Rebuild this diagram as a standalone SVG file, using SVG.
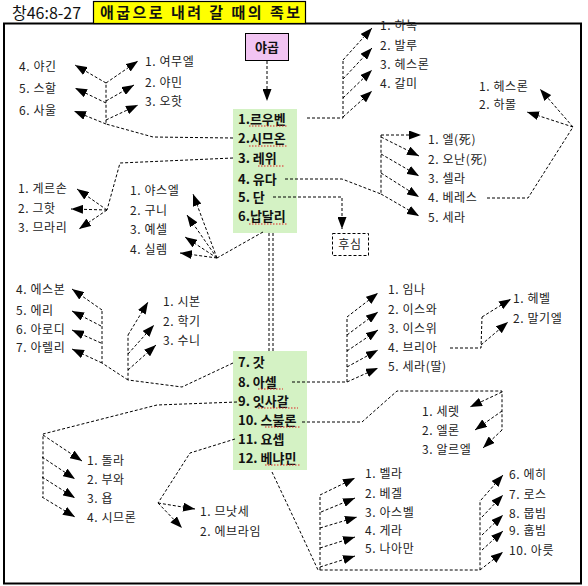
<svg xmlns="http://www.w3.org/2000/svg" width="588" height="586" viewBox="0 0 588 586">
<defs>
<marker id="ah" viewBox="0 0 12 9" refX="12" refY="4.5" markerWidth="12" markerHeight="9" markerUnits="userSpaceOnUse" orient="auto"><path d="M0,0L12,4.5L0,9z" fill="#000"/></marker>
<style>
.lb{font-family:"Noto Sans CJK KR","Noto Sans",sans-serif;font-size:12px;fill:#222;letter-spacing:0.6px}
.gb{font-family:"Noto Sans CJK KR","Noto Sans",sans-serif;font-size:13px;font-weight:bold;fill:#111}
.c{fill:none;stroke:#000;stroke-width:1;stroke-dasharray:3 2}
.a{marker-end:url(#ah)}
.sq{fill:none;stroke:#d22;stroke-width:1;stroke-dasharray:1.5 1.5}
.box{fill:#d4f2c4}
</style>
</defs>
<rect width="588" height="586" fill="#fff"/>
<g id="frame">
<rect x="4" y="23.5" width="577" height="560" fill="none" stroke="#000" stroke-width="2"/>
</g>
<g id="title">
<text x="12" y="19" font-family="Noto Sans CJK KR, sans-serif" font-size="16" fill="#111">창46:8-27</text>
<rect x="93.5" y="1.5" width="212" height="22" fill="#ffff00" stroke="#000" stroke-width="1.2"/>
<text x="100" y="18" font-family="Noto Sans CJK KR, sans-serif" font-size="15" font-weight="bold" fill="#111" textLength="200" lengthAdjust="spacing">애굽으로 내려 갈 때의 족보</text>
</g>
<g id="jacob">
<rect x="245.5" y="33.5" width="43" height="27" fill="#f2c4f2" stroke="#000"/>
<text x="267" y="52" text-anchor="middle" class="gb" font-size="14">야곱</text>
</g>
<g id="sons1">
<rect x="233" y="109" width="64" height="124" class="box"/>
<text x="238" y="124" class="gb">1.르우벤</text>
<text x="238" y="143" class="gb">2.시므온</text>
<text x="238" y="163" class="gb">3. 레위</text>
<text x="238" y="184" class="gb">4. 유다</text>
<text x="238" y="202" class="gb">5. 단</text>
<text x="238" y="221" class="gb">6.납달리</text>
<path class="sq" d="M249,126H287M249,146H287M258,166H284M249,224H287"/>
</g>
<g id="sons2">
<rect x="233" y="351" width="74" height="119" class="box"/>
<text x="238" y="367" class="gb">7. 갓</text>
<text x="238" y="387" class="gb">8. 아셀</text>
<text x="238" y="406" class="gb">9. 잇사갈</text>
<text x="238" y="425" class="gb">10. 스불론</text>
<text x="238" y="444" class="gb">11. 요셉</text>
<text x="238" y="463" class="gb">12. 베냐민</text>
<path class="sq" d="M258,389H283M258,408H298M265,427H301M265,465H301"/>
</g>
<g id="husim">
<rect x="332.5" y="233.5" width="36" height="22" fill="none" stroke="#000" stroke-dasharray="3 2"/>
<text x="350" y="249" text-anchor="middle" class="lb">후심</text>
</g>
<g id="labels">
<text class="lb" x="19" y="71">4. 야긴</text>
<text class="lb" x="19" y="93">5. 스할</text>
<text class="lb" x="19" y="115">6. 사울</text>
<text class="lb" x="145" y="66">1. 여무엘</text>
<text class="lb" x="145" y="87">2. 야민</text>
<text class="lb" x="145" y="106">3. 오핫</text>
<text class="lb" x="380" y="30">1. 하녹</text>
<text class="lb" x="380" y="50">2. 발루</text>
<text class="lb" x="380" y="69">3. 헤스론</text>
<text class="lb" x="380" y="88">4. 갈미</text>
<text class="lb" x="479" y="91">1. 헤스론</text>
<text class="lb" x="479" y="109">2. 하몰</text>
<text class="lb" x="428" y="144">1. 엘(死)</text>
<text class="lb" x="428" y="164">2. 오난(死)</text>
<text class="lb" x="428" y="183">3. 셀라</text>
<text class="lb" x="428" y="202">4. 베레스</text>
<text class="lb" x="428" y="222">5. 세라</text>
<text class="lb" x="18" y="193">1. 게르손</text>
<text class="lb" x="18" y="213">2. 그핫</text>
<text class="lb" x="18" y="232">3. 므라리</text>
<text class="lb" x="130" y="195">1. 야스엘</text>
<text class="lb" x="130" y="215">2. 구니</text>
<text class="lb" x="130" y="234">3. 예셀</text>
<text class="lb" x="130" y="254">4. 실렘</text>
<text class="lb" x="16" y="294">4. 에스본</text>
<text class="lb" x="16" y="315">5. 에리</text>
<text class="lb" x="16" y="334">6. 아로디</text>
<text class="lb" x="16" y="352">7. 아렐리</text>
<text class="lb" x="163" y="306">1. 시본</text>
<text class="lb" x="163" y="326">2. 학기</text>
<text class="lb" x="163" y="345">3. 수니</text>
<text class="lb" x="388" y="294">1. 임나</text>
<text class="lb" x="388" y="314">2. 이스와</text>
<text class="lb" x="388" y="333">3. 이스위</text>
<text class="lb" x="388" y="352">4. 브리아</text>
<text class="lb" x="388" y="371">5. 세라(딸)</text>
<text class="lb" x="513" y="303">1. 헤벨</text>
<text class="lb" x="513" y="323">2. 말기엘</text>
<text class="lb" x="422" y="416">1. 세렛</text>
<text class="lb" x="422" y="435">2. 엘론</text>
<text class="lb" x="422" y="454">3. 알르엘</text>
<text class="lb" x="87" y="465">1. 돌라</text>
<text class="lb" x="87" y="484">2. 부와</text>
<text class="lb" x="87" y="503">3. 욥</text>
<text class="lb" x="87" y="522">4. 시므론</text>
<text class="lb" x="200" y="516">1. 므낫세</text>
<text class="lb" x="200" y="536">2. 에브라임</text>
<text class="lb" x="365" y="478">1. 벨라</text>
<text class="lb" x="365" y="498">2. 베겔</text>
<text class="lb" x="365" y="517">3. 아스벨</text>
<text class="lb" x="365" y="535">4. 게라</text>
<text class="lb" x="365" y="553">5. 나아만</text>
<text class="lb" x="509" y="479">6. 에히</text>
<text class="lb" x="509" y="499">7. 로스</text>
<text class="lb" x="509" y="518">8. 뭅빔</text>
<text class="lb" x="509" y="535">9. 훕빔</text>
<text class="lb" x="509" y="555">10. 아릇</text>
</g>
<g id="connectors">
<path class="c a" d="M267,61V101"/>
<path class="c" d="M269,233V351M273,233V351"/>
<path class="c" d="M307,118H343V60"/>
<path class="c a" d="M343,60L372,28"/>
<path class="c a" d="M343,79L372,48"/>
<path class="c a" d="M343,98L372,70"/>
<path class="c a" d="M343,117L372,91"/>
<path class="c" d="M233,138L153,137L106,124V83"/>
<path class="c a" d="M106,83L75,65"/>
<path class="c a" d="M106,103L75,88"/>
<path class="c a" d="M106,124L74,111"/>
<path class="c a" d="M106,83L138,61"/>
<path class="c a" d="M106,101L134,85"/>
<path class="c a" d="M106,120L138,105"/>
<path class="c" d="M233,158L120,163L107,210"/>
<path class="c a" d="M107,210L77,189"/>
<path class="c a" d="M107,210L71,209"/>
<path class="c a" d="M107,210L79,229"/>
<path class="c" d="M285,179H342L381,194V135"/>
<path class="c a" d="M381,194L419,216"/>
<path class="c a" d="M381,135H421"/>
<path class="c a" d="M381,137L419,156"/>
<path class="c a" d="M381,154L419,176"/>
<path class="c a" d="M381,173L419,197"/>
<path class="c" d="M487,198H528L573,127"/>
<path class="c a" d="M573,127L540,89"/>
<path class="c a" d="M573,127L527,112"/>
<path class="c a" d="M273,197H342V229"/>
<path class="c" d="M263,232L217,258"/>
<path class="c a" d="M217,258L193,194"/>
<path class="c a" d="M217,258L187,215"/>
<path class="c a" d="M217,258L185,237"/>
<path class="c a" d="M217,258L180,253"/>
<path class="c" d="M233,363L182,387L128,380V335"/>
<path class="c a" d="M128,335L148,302"/>
<path class="c a" d="M128,354L154,325"/>
<path class="c a" d="M128,370L156,345"/>
<path class="c" d="M128,380L102,363V310"/>
<path class="c a" d="M102,310L72,289"/>
<path class="c a" d="M101,326L72,311"/>
<path class="c a" d="M101,343L72,330"/>
<path class="c a" d="M102,363L72,349"/>
<path class="c" d="M292,382H347V317"/>
<path class="c a" d="M347,317L378,293"/>
<path class="c a" d="M347,335L378,312"/>
<path class="c a" d="M347,351L378,330"/>
<path class="c a" d="M347,367L378,350"/>
<path class="c a" d="M347,382L378,368"/>
<path class="c" d="M450,348H481L482,317"/>
<path class="c a" d="M482,317L511,299"/>
<path class="c a" d="M481,345L508,322"/>
<path class="c" d="M302,422H362L397,391H502V430"/>
<path class="c a" d="M502,392L470,407"/>
<path class="c a" d="M502,411L475,430"/>
<path class="c a" d="M502,430L483,448"/>
<path class="c" d="M237,402L157,405L43,434V497"/>
<path class="c a" d="M43,435L82,461"/>
<path class="c a" d="M42,457L75,479"/>
<path class="c a" d="M42,477L75,498"/>
<path class="c a" d="M42,497L75,517"/>
<path class="c" d="M235,439L190,453L158,503"/>
<path class="c a" d="M158,503L195,509"/>
<path class="c a" d="M158,503L182,528"/>
<path class="c" d="M272,472L298,527L318,570H480V500"/>
<path class="c" d="M320,570V495"/>
<path class="c a" d="M320,495L355,478"/>
<path class="c a" d="M321,512L355,498"/>
<path class="c a" d="M320,528L357,517"/>
<path class="c a" d="M320,548L355,537"/>
<path class="c a" d="M320,567L355,556"/>
<path class="c a" d="M481,500L503,475"/>
<path class="c a" d="M482,517L503,495"/>
<path class="c a" d="M482,535L503,515"/>
<path class="c a" d="M482,550L503,531"/>
<path class="c a" d="M480,570L503,552"/>
</g>
</svg>
